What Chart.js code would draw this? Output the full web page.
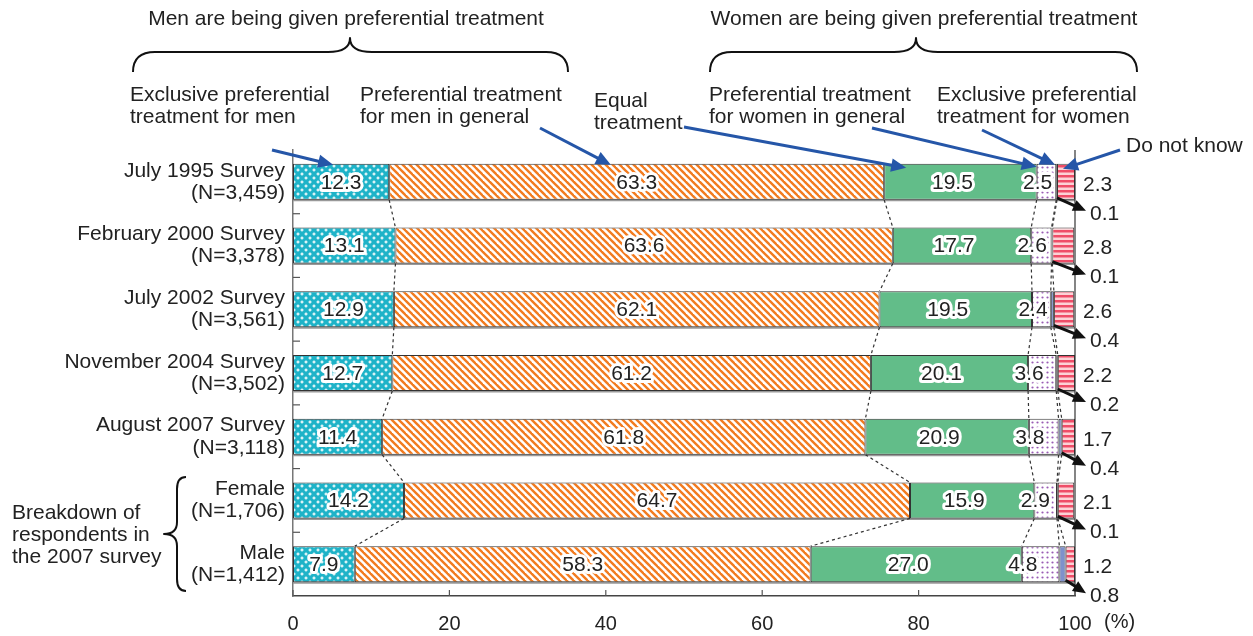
<!DOCTYPE html>
<html>
<head>
<meta charset="utf-8">
<script src="https://cdn.jsdelivr.net/npm/chart.js@4.4.0/dist/chart.umd.min.js"></script>
<style>
body { margin: 0; background: #fff; }
canvas { display: block; }
</style>
</head>
<body>
<canvas id="chart" width="1253" height="636"></canvas>
<script>
const surveys = [
    ['July 1995 Survey', '(N=3,459)'],
    ['February 2000 Survey', '(N=3,378)'],
    ['July 2002 Survey', '(N=3,561)'],
    ['November 2004 Survey', '(N=3,502)'],
    ['August 2007 Survey', '(N=3,118)'],
    ['Female', '(N=1,706)'],
    ['Male', '(N=1,412)']
]
const exclusiveMen = [12.3, 13.1, 12.9, 12.7, 11.4, 14.2, 7.9]
const menGeneral = [63.3, 63.6, 62.1, 61.2, 61.8, 64.7, 58.3]
const equalTreatment = [19.5, 17.7, 19.5, 20.1, 20.9, 15.9, 27.0]
const womenGeneral = [2.5, 2.6, 2.4, 3.6, 3.8, 2.9, 4.8]
const exclusiveWomen = [0.1, 0.1, 0.4, 0.2, 0.4, 0.1, 0.8]
const doNotKnow = [2.3, 2.8, 2.6, 2.2, 1.7, 2.1, 1.2]

const FONT = "'Liberation Sans', Arial, sans-serif"
const TEXT = '#222'

function makePattern(w, h, draw) {
    const c = document.createElement('canvas')
    c.width = w
    c.height = h
    const g = c.getContext('2d')
    draw(g, w, h)
    return g.createPattern(c, 'repeat')
}

const cyanDots = makePattern(8, 8, (g) => {
    g.fillStyle = '#1eb3c8'
    g.fillRect(0, 0, 8, 8)
    g.fillStyle = '#fff'
    ;[[2, 2], [6, 6]].forEach(([x, y]) => {
        g.fillRect(x - 1.5, y - 0.6, 3, 1.2)
        g.fillRect(x - 0.6, y - 1.5, 1.2, 3)
    })
})

const orangeStripes = makePattern(7, 7, (g) => {
    g.fillStyle = '#fff'
    g.fillRect(0, 0, 7, 7)
    g.strokeStyle = '#f27b1f'
    g.lineWidth = 2.4
    for (let o = -7; o <= 7; o += 7) {
        g.beginPath()
        g.moveTo(o - 1, -1)
        g.lineTo(o + 8, 8)
        g.stroke()
    }
})

const purpleDots = makePattern(5, 5, (g) => {
    g.fillStyle = '#fff'
    g.fillRect(0, 0, 5, 5)
    g.fillStyle = '#9a5cb4'
    g.beginPath()
    g.arc(2.5, 2.5, 1.1, 0, Math.PI * 2)
    g.fill()
})

const redStripes = makePattern(4, 5, (g) => {
    g.fillStyle = '#fcd2d6'
    g.fillRect(0, 0, 4, 5)
    g.fillStyle = '#ef4d68'
    g.fillRect(0, 0, 4, 2.5)
})

function arrow(ctx, x1, y1, x2, y2, color, width, head) {
    const a = Math.atan2(y2 - y1, x2 - x1)
    ctx.save()
    ctx.strokeStyle = color
    ctx.fillStyle = color
    ctx.lineWidth = width
    ctx.beginPath()
    ctx.moveTo(x1, y1)
    ctx.lineTo(x2 - Math.cos(a) * head * 0.8, y2 - Math.sin(a) * head * 0.8)
    ctx.stroke()
    ctx.beginPath()
    ctx.moveTo(x2, y2)
    ctx.lineTo(x2 - head * Math.cos(a) + head * 0.45 * Math.sin(a), y2 - head * Math.sin(a) - head * 0.45 * Math.cos(a))
    ctx.lineTo(x2 - head * Math.cos(a) - head * 0.45 * Math.sin(a), y2 - head * Math.sin(a) + head * 0.45 * Math.cos(a))
    ctx.closePath()
    ctx.fill()
    ctx.restore()
}

function hBrace(ctx, x1, x2, xm, yTip, yLine, yEnd) {
    ctx.beginPath()
    ctx.moveTo(x1, yEnd)
    ctx.quadraticCurveTo(x1, yLine, x1 + 22, yLine)
    ctx.lineTo(xm - 22, yLine)
    ctx.quadraticCurveTo(xm, yLine, xm, yTip)
    ctx.quadraticCurveTo(xm, yLine, xm + 22, yLine)
    ctx.lineTo(x2 - 22, yLine)
    ctx.quadraticCurveTo(x2, yLine, x2, yEnd)
    ctx.stroke()
}

function vBrace(ctx, y1, y2, ym, xTip, xLine, xEnd) {
    ctx.beginPath()
    ctx.moveTo(xEnd, y1)
    ctx.quadraticCurveTo(xLine, y1, xLine, y1 + 12)
    ctx.lineTo(xLine, ym - 12)
    ctx.quadraticCurveTo(xLine, ym, xTip, ym)
    ctx.quadraticCurveTo(xLine, ym, xLine, ym + 12)
    ctx.lineTo(xLine, y2 - 12)
    ctx.quadraticCurveTo(xLine, y2, xEnd, y2)
    ctx.stroke()
}

function haloText(ctx, txt, x, y) {
    ctx.lineWidth = 6
    ctx.strokeStyle = '#fff'
    ctx.lineJoin = 'round'
    ctx.strokeText(txt, x, y)
    ctx.fillStyle = TEXT
    ctx.fillText(txt, x, y)
}

const decorations = {
    id: 'decorations',
    beforeDatasetsDraw(chart) {
        const ctx = chart.ctx
        const area = chart.chartArea
        const metas = chart.data.datasets.map((d, i) => chart.getDatasetMeta(i))
        ctx.save()
        // grey line under each bar
        ctx.strokeStyle = '#999'
        ctx.lineWidth = 2
        metas[0].data.forEach((bar) => {
            const b = bar.getProps(['y', 'height'], true)
            const yb = b.y + b.height / 2
            ctx.beginPath()
            ctx.moveTo(area.left, yb + 0.5)
            ctx.lineTo(area.right, yb + 0.5)
            ctx.stroke()
        })
        ctx.restore()
    },
    afterDatasetsDraw(chart) {
        const ctx = chart.ctx
        const area = chart.chartArea
        const xs = chart.scales.x
        const ys = chart.scales.y
        const metas = chart.data.datasets.map((d, i) => chart.getDatasetMeta(i))
        const n = surveys.length
        ctx.save()

        // frame: right edge and tick marks
        ctx.strokeStyle = '#333'
        ctx.lineWidth = 1.2
        ctx.beginPath()
        ctx.moveTo(area.right, area.top)
        ctx.lineTo(area.right, area.bottom)
        ctx.stroke()
        ctx.strokeStyle = '#555'
        for (let i = 1; i < n; i++) {
            const y = (ys.getPixelForValue(i - 1) + ys.getPixelForValue(i)) / 2
            ctx.beginPath()
            ctx.moveTo(area.left, y)
            ctx.lineTo(area.left + 7, y)
            ctx.stroke()
        }
        xs.ticks.forEach((t) => {
            const x = xs.getPixelForValue(t.value)
            ctx.beginPath()
            ctx.moveTo(x, area.bottom)
            ctx.lineTo(x, area.bottom - 6)
            ctx.stroke()
        })

        // dotted connectors between boundaries of consecutive bars
        ctx.strokeStyle = '#333'
        ctx.lineWidth = 1.2
        ctx.setLineDash([3, 3])
        for (let k = 0; k < 5; k++) {
            for (let i = 0; i < n - 1; i++) {
                const a = metas[k].data[i].getProps(['x', 'y', 'height'], true)
                const b = metas[k].data[i + 1].getProps(['x', 'y', 'height'], true)
                ctx.beginPath()
                ctx.moveTo(a.x, a.y + a.height / 2)
                ctx.lineTo(b.x, b.y - b.height / 2)
                ctx.stroke()
            }
        }
        ctx.setLineDash([])

        // value labels
        ctx.font = '21px ' + FONT
        ctx.textBaseline = 'middle'
        for (let i = 0; i < n; i++) {
            const bars = metas.map((m) => m.data[i].getProps(['x', 'base', 'y', 'height'], true))
            ctx.textAlign = 'center'
            haloText(ctx, exclusiveMen[i].toFixed(1), (bars[0].x + bars[0].base) / 2, bars[0].y + 1)
            haloText(ctx, menGeneral[i].toFixed(1), (bars[1].x + bars[1].base) / 2, bars[1].y + 1)
            haloText(ctx, equalTreatment[i].toFixed(1), (bars[2].x + bars[2].base) / 2 - 8, bars[2].y + 1)
            haloText(ctx, womenGeneral[i].toFixed(1), bars[3].base + 1, bars[3].y + 1)
            ctx.textAlign = 'left'
            ctx.fillStyle = TEXT
            ctx.fillText(doNotKnow[i].toFixed(1), area.right + 8, bars[5].y + 3)
            const yb = bars[4].y + bars[4].height / 2
            ctx.fillText(exclusiveWomen[i].toFixed(1), area.right + 15, yb + 14)
            arrow(ctx, bars[4].x, yb - 2, area.right + 11, yb + 11, '#111', 3, 13)
        }

        // x axis unit
        ctx.fillStyle = TEXT
        ctx.font = '20px ' + FONT
        ctx.textAlign = 'left'
        ctx.fillText('(%)', area.right + 29, 622)

        // annotation texts
        ctx.textAlign = 'left'
        ctx.font = '21px ' + FONT
        const notes = [
            ['Exclusive preferential', 130, 95], ['treatment for men', 130, 117],
            ['Preferential treatment', 360, 95], ['for men in general', 360, 117],
            ['Equal', 594, 101], ['treatment', 594, 123],
            ['Preferential treatment', 709, 95], ['for women in general', 709, 117],
            ['Exclusive preferential', 937, 95], ['treatment for women', 937, 117],
            ['Do not know', 1126, 146],
            ['Breakdown of', 12, 513], ['respondents in', 12, 535], ['the 2007 survey', 12, 557]
        ]
        notes.forEach(([t, x, y]) => ctx.fillText(t, x, y))
        ctx.textAlign = 'center'
        ctx.fillText('Men are being given preferential treatment', 346, 19)
        ctx.fillText('Women are being given preferential treatment', 924, 19)

        // braces
        ctx.strokeStyle = '#111'
        ctx.lineWidth = 2
        hBrace(ctx, 133, 568, 350, 38, 52, 72)
        hBrace(ctx, 710, 1137, 916, 38, 52, 72)
        vBrace(ctx, 477, 591, 534, 164, 177, 186)

        // blue pointer arrows
        const blue = '#2556a8'
        const y0 = ys.getPixelForValue(0) - metas[0].data[0].height / 2
        const top = metas.map((m) => m.data[0].getProps(['x', 'base'], true))
        arrow(ctx, 272, 150, (top[0].x + top[0].base) / 2 - 8, y0 + 1, blue, 3, 15)
        arrow(ctx, 540, 128, xs.getPixelForValue(40) + 5, y0 + 1, blue, 3, 15)
        arrow(ctx, 684, 127, top[2].base + 22, y0 + 4, blue, 3, 15)
        arrow(ctx, 872, 128, top[3].base, y0 + 3, blue, 3, 15)
        arrow(ctx, 982, 130, top[4].x - 2, y0 + 1, blue, 3, 15)
        arrow(ctx, 1120, 150, top[5].base + 6, y0 + 5, blue, 3, 15)

        ctx.restore()
    }
}

const seriesList = [exclusiveMen, menGeneral, equalTreatment, womenGeneral, exclusiveWomen, doNotKnow]
const fills = [cyanDots, orangeStripes, '#62bd89', purpleDots, '#7f91cb', redStripes]

new Chart(document.getElementById('chart'), {
    type: 'bar',
    data: {
        labels: surveys,
        datasets: seriesList.map((vals, i) => ({
            data: vals,
            backgroundColor: fills[i],
            borderColor: '#333',
            borderWidth: 1,
            borderSkipped: false,
            barPercentage: 0.565,
            categoryPercentage: 1
        }))
    },
    options: {
        indexAxis: 'y',
        responsive: false,
        animation: false,
        layout: { padding: { top: 150, right: 178, left: 0, bottom: 0 } },
        plugins: { legend: { display: false }, tooltip: { enabled: false } },
        scales: {
            x: {
                stacked: true,
                min: 0,
                max: 100,
                ticks: { stepSize: 20, color: TEXT, font: { size: 20, family: FONT }, padding: 8 },
                grid: { display: false },
                border: { color: '#444', width: 1.5 },
                afterFit: (s) => { s.height = 40 }
            },
            y: {
                stacked: true,
                ticks: { color: TEXT, font: { size: 21, family: FONT, lineHeight: 1.05 }, padding: 0 },
                grid: { display: false },
                border: { color: '#777', width: 1.5 },
                afterFit: (s) => { s.width = 293 }
            }
        }
    },
    plugins: [decorations]
})
</script>
</body>
</html>
